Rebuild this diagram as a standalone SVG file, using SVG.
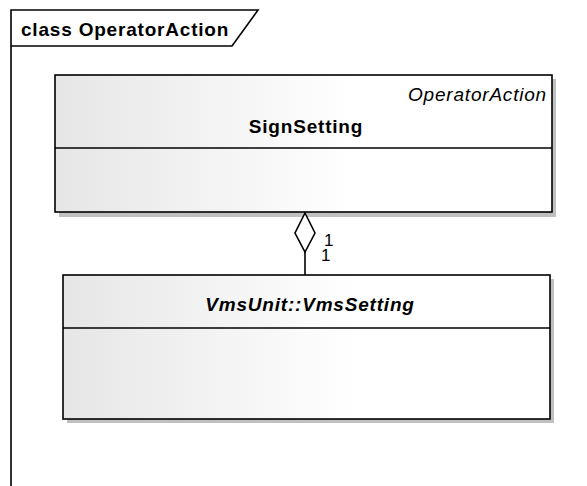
<svg xmlns="http://www.w3.org/2000/svg" width="587" height="486" viewBox="0 0 587 486">
<defs>
<linearGradient id="g" x1="0" y1="0" x2="1" y2="0">
<stop offset="0" stop-color="#e6e6e6"/>
<stop offset="0.6" stop-color="#ffffff"/>
<stop offset="1" stop-color="#ffffff"/>
</linearGradient>
</defs>
<style>
.box{fill:url(#g);stroke:#000;stroke-width:1.6}
.sh{fill:#c0c0c0}
.ln{stroke:#000;stroke-width:1.6;fill:none}
text{font-family:"Liberation Sans",Arial,sans-serif;font-size:19px;letter-spacing:0.8px;fill:#000}
.b{font-weight:bold}
.i{font-style:italic}
.m{font-size:17px;letter-spacing:0}
</style>
<rect width="587" height="486" fill="#fff"/>
<g id="frame">
<path class="ln" d="M11,486 V10 H258 L232,46 H11"/>
<text class="b" x="21" y="36">class OperatorAction</text>
</g>
<g id="SignSetting">
<rect class="sh" x="59" y="79" width="497" height="138"/>
<rect class="box" x="55" y="75" width="497" height="137"/>
<line class="ln" x1="55" y1="148" x2="552" y2="148"/>
<text class="i" x="547" y="101" text-anchor="end">OperatorAction</text>
<text class="b" x="306" y="133" text-anchor="middle">SignSetting</text>
</g>
<g id="VmsSetting">
<rect class="sh" x="67" y="279" width="487" height="144"/>
<rect class="box" x="63" y="275" width="487" height="144"/>
<line class="ln" x1="63" y1="328" x2="550" y2="328"/>
<text class="b i" x="310" y="311" text-anchor="middle">VmsUnit::VmsSetting</text>
</g>
<g id="connectors">
<path class="ln" d="M305,252 V275"/>
<path d="M305,213 L315,233 L305,252 L295,233 Z" fill="#fff" stroke="#000" stroke-width="1.6"/>
<text class="m" x="324" y="246">1</text>
<text class="m" x="321" y="261">1</text>
</g>
</svg>
